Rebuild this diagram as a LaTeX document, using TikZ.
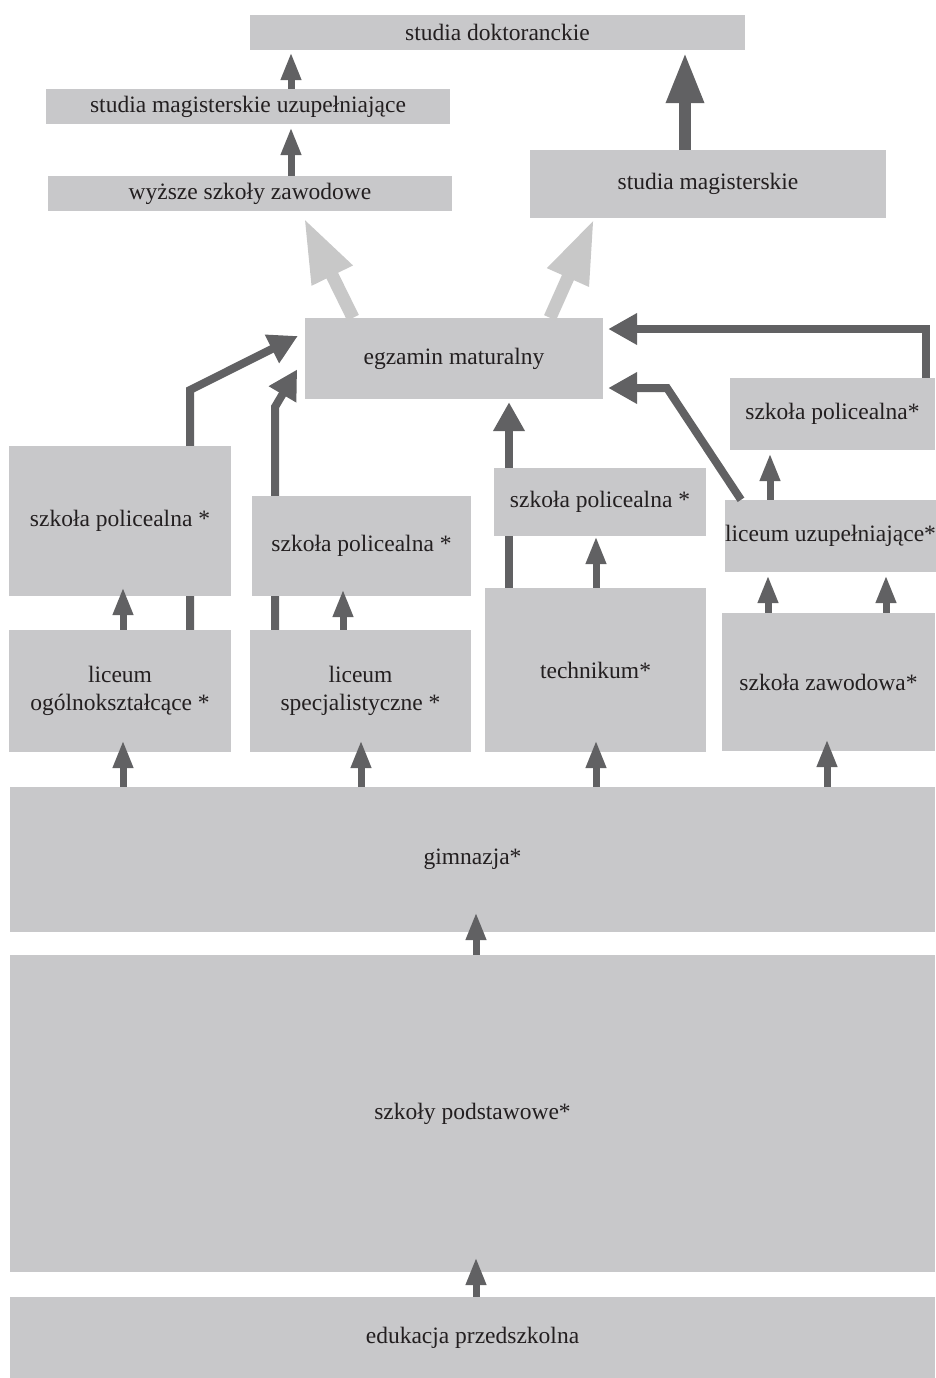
\documentclass[tikz,border=0pt]{standalone}
\usepackage{fontspec}
\setmainfont{Liberation Serif}
\usetikzlibrary{arrows.meta,backgrounds}
\definecolor{boxgray}{HTML}{C8C8CA}
\definecolor{lightarr}{HTML}{C8C8C8}
\definecolor{darkarr}{HTML}{616163}
\definecolor{txt}{HTML}{231F20}
\tikzset{
  box/.style={fill=boxgray, draw=none, inner sep=0pt, align=center, text=txt,
    font=\fontsize{23.5}{28}\selectfont},
  sarr/.style={draw=darkarr, line width=7pt, -{Triangle[length=28pt,width=19pt]}},
  marr/.style={draw=darkarr, line width=8pt, line join=miter, -{Triangle[length=29pt,width=30pt]}},
  tarr/.style={draw=darkarr, line width=12pt, -{Triangle[length=51pt,width=35pt]}},
  larr/.style={draw=lightarr, line width=13pt, -{Triangle[length=64pt,width=42pt]}},
}
\begin{document}
\begin{tikzpicture}[x=1pt,y=-1pt]
\useasboundingbox (0,0) rectangle (935,1378);
% boxes
\node[box, minimum width=495pt, minimum height=35pt] (sd) at (497.5,32.5) {studia doktoranckie};
\node[box, minimum width=404pt, minimum height=35pt] (smu) at (248,106.5) {studia magisterskie uzupełniające};
\node[box, minimum width=404pt, minimum height=35pt] (wsz) at (250,193.5) {wyższe szkoły zawodowe};
\node[box, minimum width=356pt, minimum height=68pt] (sm) at (708,184) {studia magisterskie};
\node[box, minimum width=298pt, minimum height=81pt] (em) at (454,358.5) {egzamin maturalny};
\node[box, minimum width=205pt, minimum height=72pt] (spr) at (832.5,414) {szkoła policealna*};
\node[box, minimum width=222pt, minimum height=150pt] (sp1) at (120,521) {szkoła policealna *};
\node[box, minimum width=219pt, minimum height=100pt] (sp2) at (361.5,546) {szkoła policealna *};
\node[box, minimum width=212pt, minimum height=68pt] (sp3) at (600,502) {szkoła policealna *};
\node[box, minimum width=209pt, minimum height=72pt] (lu) at (830.5,536) {liceum uzupełniające*};
\node[box, minimum width=222pt, minimum height=122pt] (lo) at (120,691) {liceum\\ogólnokształcące *};
\node[box, minimum width=221pt, minimum height=122pt] (ls) at (360.5,691) {liceum\\specjalistyczne *};
\node[box, minimum width=221pt, minimum height=164pt] (tech) at (595.5,670) {technikum*};
\node[box, minimum width=213pt, minimum height=138pt] (sz) at (828.5,682) {szkoła zawodowa*};
\node[box, minimum width=925pt, minimum height=145pt] (gim) at (472.5,859.5) {gimnazja*};
\node[box, minimum width=925pt, minimum height=317pt] (pod) at (472.5,1113.5) {szkoły podstawowe*};
\node[box, minimum width=925pt, minimum height=81pt] (prz) at (472.5,1337.5) {edukacja przedszkolna};
% arrows behind boxes
\begin{scope}[on background layer]
\draw[marr, shorten >=7.8pt] (lo.north -| 190,0) -- (190,390) -- (em.west |- 0,332.5);
\draw[marr, shorten >=15pt] (ls.north -| 275,0) -- (275,407) -- (em.west |- 0,356.5);
\draw[marr, shorten >=3pt] (tech.north -| 509,0) -- (em.south -| 509,0);
\end{scope}
% arrows on top
\draw[sarr, shorten >=3pt] (wsz.north -| 291,0) -- (smu.south -| 291,0);
\draw[sarr, shorten >=2pt] (smu.north -| 291,0) -- (sd.south -| 291,0);
\draw[tarr, shorten >=2pt] (sm.north -| 685,0) -- (sd.south -| 685,0);
\draw[larr, shorten >=7.8pt] (em.north -| 353,0) -- (wsz.south -| 300.6,0);
\draw[larr, shorten >=1pt] (em.north -| 550,0) -- (sm.south -| 594.4,0);
\draw[marr, shorten >=5pt] (spr.north -| 926,0) |- (em.east |- 0,329);
\draw[marr, shorten >=5pt] (lu.north -| 741,0) -- (667,388) -- (em.east |- 0,388);
\draw[sarr, shorten >=-9pt] (lo.north -| 123,0) -- (sp1.south -| 123,0);
\draw[sarr, shorten >=-7pt] (ls.north -| 343,0) -- (sp2.south -| 343,0);
\draw[sarr, shorten >=0pt] (tech.north -| 596,0) -- (sp3.south -| 596,0);
\draw[sarr, shorten >=3pt] (lu.north -| 770,0) -- (spr.south -| 770,0);
\draw[sarr, shorten >=3pt] (sz.north -| 768,0) -- (lu.south -| 768,0);
\draw[sarr, shorten >=3pt] (sz.north -| 886,0) -- (lu.south -| 886,0);
\draw[sarr, shorten >=-12pt] (gim.north -| 123,0) -- (lo.south -| 123,0);
\draw[sarr, shorten >=-12pt] (gim.north -| 361,0) -- (ls.south -| 361,0);
\draw[sarr, shorten >=-12pt] (gim.north -| 596,0) -- (tech.south -| 596,0);
\draw[sarr, shorten >=-12pt] (gim.north -| 827,0) -- (sz.south -| 827,0);
\draw[sarr, shorten >=-20pt] (pod.north -| 476,0) -- (gim.south -| 476,0);
\draw[sarr, shorten >=-15pt] (prz.north -| 476,0) -- (pod.south -| 476,0);
\end{tikzpicture}
\end{document}
